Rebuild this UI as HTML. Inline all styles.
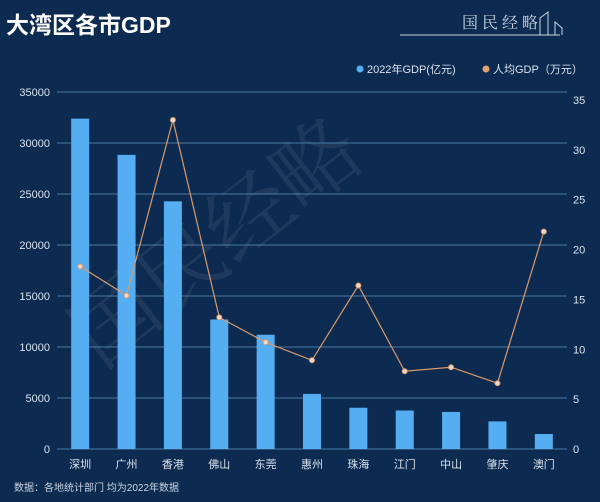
<!DOCTYPE html>
<html><head><meta charset="utf-8"><style>
body{margin:0;background:#0d2b50;width:600px;height:502px;overflow:hidden;font-family:"Liberation Sans","Noto Sans CJK SC",sans-serif}
svg{display:block}
</style></head><body>
<svg id="c" width="600" height="502">
<rect width="600" height="502" fill="#0d2b50"/>
<text x="6" y="33" font-size="23" font-weight="bold" fill="#fff" font-family="Liberation Sans,Noto Sans CJK SC,sans-serif">大湾区各市GDP</text>
<g>
<text x="462" y="28" font-size="16" fill="#c8d4e4" font-family="Noto Serif CJK SC,serif" letter-spacing="4">国民经略</text>
<line x1="400" y1="35" x2="560" y2="35" stroke="#c8d4e4" stroke-width="1"/>
<polyline points="540,35 540,18 548,12 548,35 555,35 555,22 562,28 562,35" fill="none" stroke="#c8d4e4"/>
</g>
<text x="100" y="370" font-size="85" fill="#ffffff" fill-opacity="0.07" transform="rotate(-38 100 370)" font-family="Noto Serif CJK SC,serif">国民经略</text>
<g>
<circle cx="360" cy="69" r="3.5" fill="#55aef2"/>
<text x="367" y="73" font-size="11" fill="#d8e2ee">2022年GDP(亿元)</text>
<circle cx="486" cy="69" r="3.5" fill="#e0a070"/>
<text x="493" y="73" font-size="11" fill="#d8e2ee">人均GDP（万元）</text>
</g>
<g id="grid"></g><g id="bars"></g><g id="line"></g><g id="labels"></g>
<text x="14" y="491" font-size="10" fill="#c8d4e4">数据：各地统计部门 均为2022年数据</text>
</svg>
<script>
const categories=["深圳","广州","香港","佛山","东莞","惠州","珠海","江门","中山","肇庆","澳门"];
const gdp=[32387,28839,24280,12698,11200,5401,4045,3773,3631,2705,1470];
const perCapita=[18.3,15.4,33.0,13.2,10.7,8.9,16.4,7.8,8.2,6.6,21.8];
const leftTicks=[0,5000,10000,15000,20000,25000,30000,35000];
const rightTicks=[0,5,10,15,20,25,30,35];
const NS="http://www.w3.org/2000/svg";
const x0=57,x1=567,y0=449,y1=92,yR1=100;
const band=(x1-x0)/categories.length;
const xc=i=>x0+band*(i+0.5);
const yL=v=>y0-(v/35000)*(y0-y1);
const yR=v=>y0-(v/35)*(y0-yR1);
function mk(tag,attrs,parent){const e=document.createElementNS(NS,tag);for(const k in attrs)e.setAttribute(k,attrs[k]);document.getElementById(parent).appendChild(e);return e;}
leftTicks.forEach((t,i)=>{
  const g=mk("line",{x1:x0,x2:x1,y1:yL(t),y2:yL(t),stroke:"#4d7aa5","stroke-width":1},"grid");
  
  
  const l=mk("text",{x:50,y:yL(t)+4,"text-anchor":"end","font-size":11,fill:"#d8e2ee"},"labels");l.textContent=t;
  
  
});
rightTicks.forEach(t=>{
  const l=mk("text",{x:573,y:yR(t)+4,"font-size":11,fill:"#d8e2ee"},"labels");l.textContent=t;
  
  
});
gdp.forEach((v,i)=>{
  const b=mk("rect",{x:xc(i)-9,y:yL(v),width:18,height:y0-yL(v),fill:"#55aef2"},"bars");
  
  
  const l=mk("text",{x:xc(i),y:468,"text-anchor":"middle","font-size":11,fill:"#d8e2ee"},"labels");l.textContent=categories[i];
  
  
});
const pl=mk("polyline",{points:perCapita.map((v,i)=>xc(i)+","+yR(v)).join(" "),fill:"none",stroke:"#d99a6c","stroke-width":1.2},"line");


perCapita.forEach((v,i)=>{
  const p=mk("circle",{cx:xc(i),cy:yR(v),r:2.5,fill:"#f0d8cc",stroke:"#d99a6c","stroke-width":1},"line");
  
  
});
</script>
</body></html>
